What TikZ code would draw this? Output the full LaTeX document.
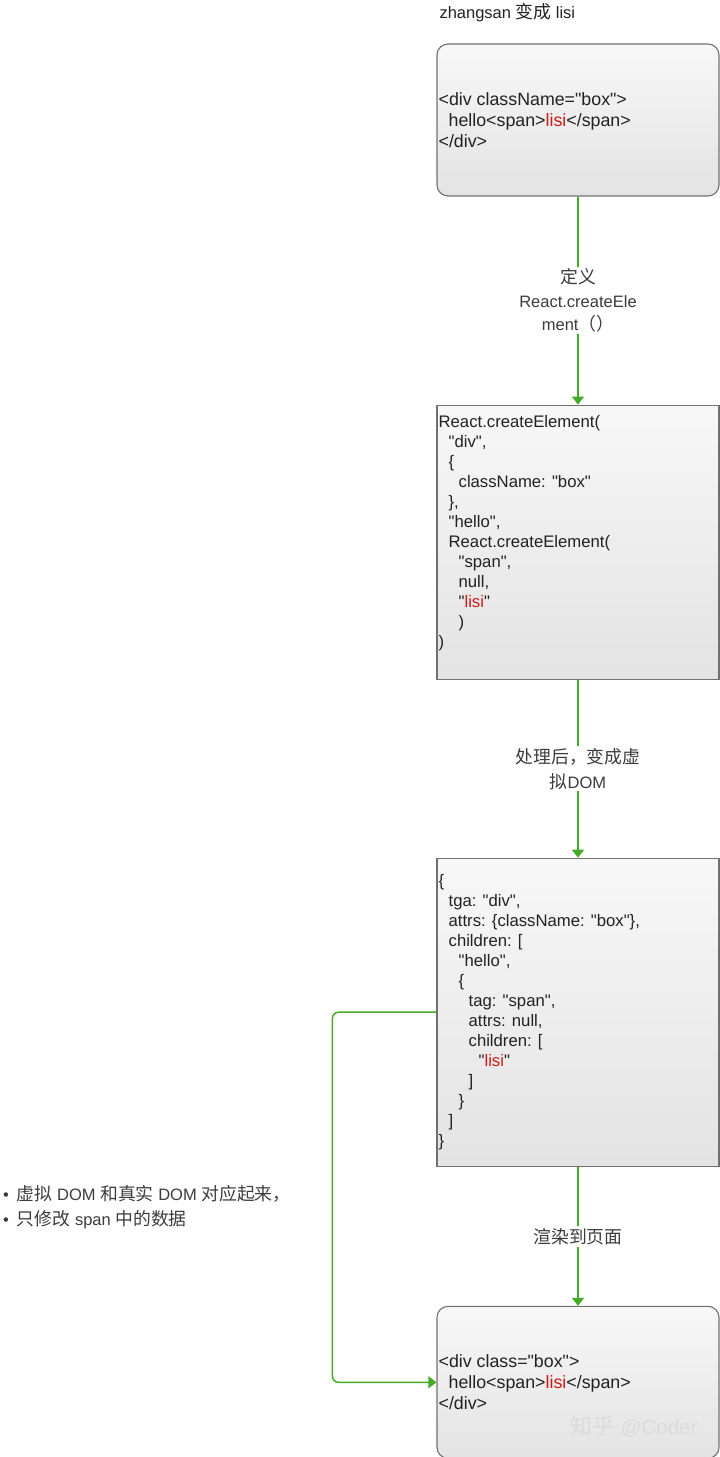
\documentclass[tikz,border=0pt]{standalone}
\usepackage{fontspec}
\setmainfont{Liberation Sans}[Ligatures=TeXOff]
\newfontfamily\cjk[Scale=1.08]{Noto Sans CJK SC}
\usepackage{tikz}
\usetikzlibrary{positioning,arrows.meta}
\usepackage{xcolor}
\definecolor{flowgreen}{RGB}{66,170,38}
\definecolor{lisired}{RGB}{204,24,24}
\definecolor{boxline}{RGB}{112,112,112}
\definecolor{codetxt}{RGB}{34,34,34}
\definecolor{lbltxt}{RGB}{60,60,60}
\newcommand{\indt}[1]{\hspace*{#10pt}}
\newcommand{\lisi}{\textcolor{lisired}{lisi}}

\begin{document}
\begin{tikzpicture}[
    x=1pt, y=-1pt,
    codebox/.style={rectangle, draw=boxline, line width=1.1pt, top color=white!97!black, bottom color=white!89!black, minimum width=282pt, minimum height=152pt, inner sep=0pt},
    roundbox/.style={codebox, rounded corners=11pt},
    code/.style={align=left, inner sep=0pt, text=codetxt, font=\fontsize{16.7}{20}\selectfont},
    bigcode/.style={code, font=\fontsize{17.8}{21}\selectfont},
    flow/.style={color=flowgreen, line width=1.5pt, -{Triangle[width=12pt,length=8pt]}},
    edgelabel/.style={fill=white, align=center, text=lbltxt, inner sep=2pt, font=\fontsize{16.5}{23.5}\selectfont}
]
\useasboundingbox (0,0) rectangle (720,1457);

% Title
\node[anchor=west, text=codetxt, font=\fontsize{16.5}{20}\selectfont] (title) at (436,13) {zhangsan {\cjk 变成} lisi};

% Boxes
\node[roundbox] (src) at (578,120) {};
\node[codebox, minimum height=274pt, below=208pt of src] (ce) {};
\node[codebox, minimum height=308pt, below=178pt of ce] (vdom) {};
\node[roundbox, below=139pt of vdom] (dom) {};

% Box contents
\node[bigcode, anchor=west] (srctext) at ([xshift=2pt]src.west) {<div className="box">\\
\indt{1}hello<span>\lisi</span>\\
</div>};

\node[code, anchor=north west] (cetext) at ([xshift=2pt,yshift=-11pt]ce.north west) {React.createElement(\\
\indt{1}"div",\\
\indt{1}\{\\
\indt{2}className: "box"\\
\indt{1}\},\\
\indt{1}"hello",\\
\indt{1}React.createElement(\\
\indt{2}"span",\\
\indt{2}null,\\
\indt{2}"\lisi"\\
\indt{2})\\
)};

\node[code, anchor=west] (vdomtext) at ([xshift=2pt]vdom.west) {\{\\
\indt{1}tga: "div",\\
\indt{1}attrs: \{className: "box"\},\\
\indt{1}children: [\\
\indt{2}"hello",\\
\indt{2}\{\\
\indt{3}tag: "span",\\
\indt{3}attrs: null,\\
\indt{3}children: [\\
\indt{4}"\lisi"\\
\indt{3}]\\
\indt{2}\}\\
\indt{1}]\\
\}};

\node[bigcode, anchor=west] (domtext) at ([xshift=2pt]dom.west) {<div class="box">\\
\indt{1}hello<span>\lisi</span>\\
</div>};

% Watermark
\node[anchor=east, text=black!14, font=\fontsize{20.5}{24}\selectfont] (wmark) at (701,1427) {{\cjk 知乎} @Coder};

% Note on the left
\node[anchor=west, align=left, text=lbltxt, inner sep=0pt, font=\fontsize{16.5}{25}\selectfont] (note) at (3,1207.5) {\textbullet\hspace{8pt}{\cjk 虚拟} DOM {\cjk 和真实} DOM {\cjk 对应起来，}\\
\textbullet\hspace{8pt}{\cjk 只修改} span {\cjk 中的数据}};

% Flow arrows
\draw[flow] (src) -- node[edgelabel] {{\cjk 定义}\\React.createEle\\ment{\cjk （）}} (ce);
\draw[flow] (ce) -- node[edgelabel, font=\fontsize{16.5}{25}\selectfont] {{\cjk 处理后，变成虚}\\{\cjk 拟}DOM} (vdom);
\draw[flow] (vdom) -- node[edgelabel] {{\cjk 渲染到页面}} (dom);

% Side connection
\draw[flow, rounded corners=6pt] (vdom.west) -- ++(-104,0) |- (dom.west);

\end{tikzpicture}
\end{document}
